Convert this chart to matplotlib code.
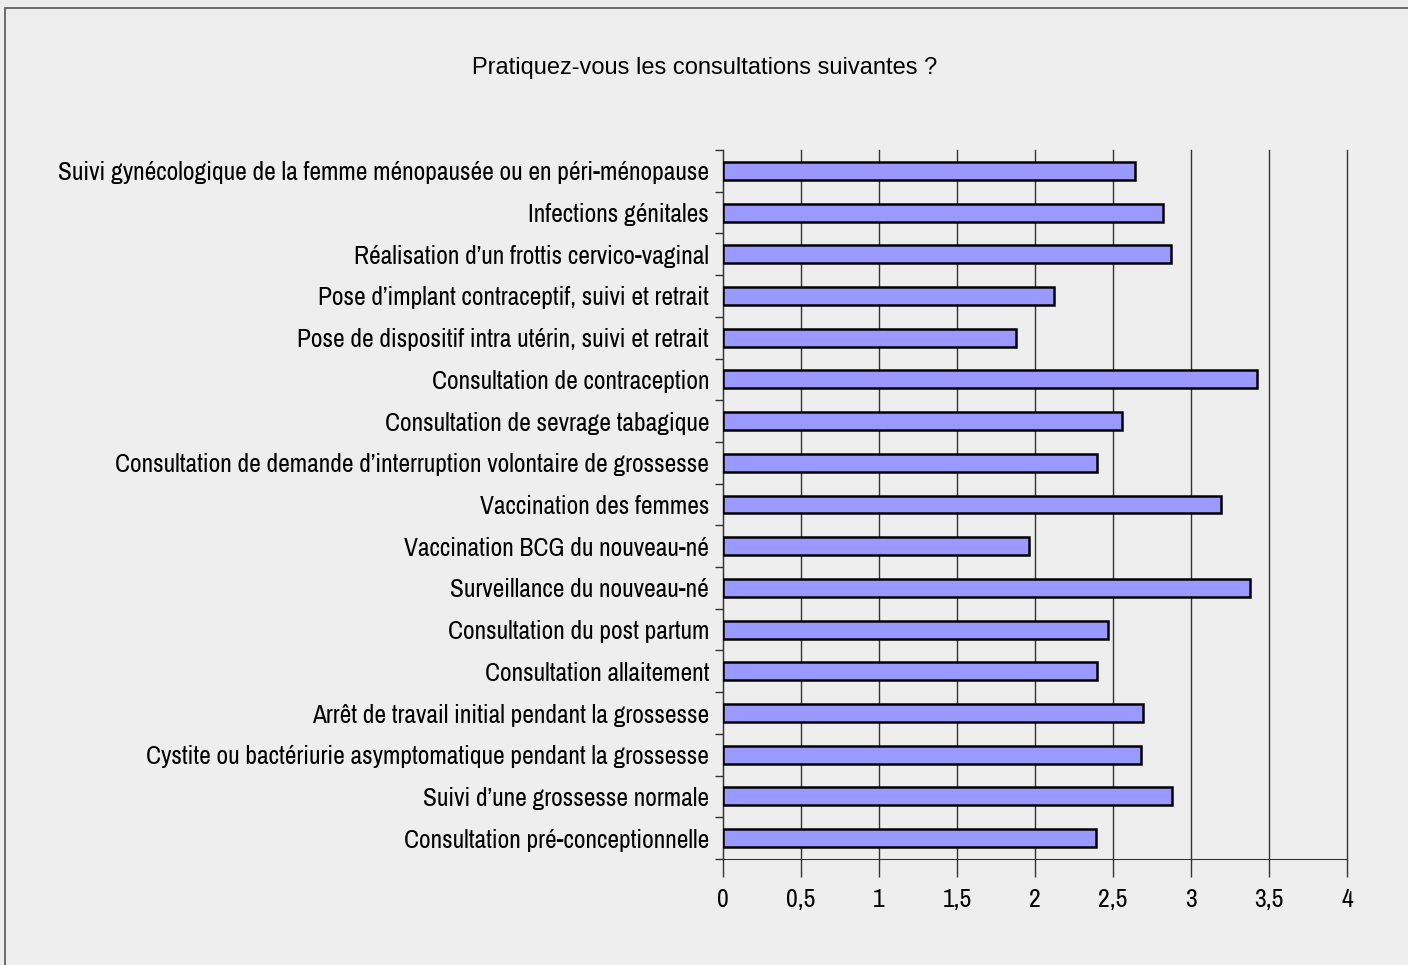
import matplotlib
matplotlib.use("Agg")
import matplotlib.pyplot as plt
import numpy as np
from matplotlib.patches import Rectangle

plt.rcParams["font.family"] = ["Archivo Narrow", "DejaVu Sans"]

TITLE = "Pratiquez-vous les consultations suivantes ?"

# top to bottom as drawn
categories = [
    "Suivi gynécologique de la femme ménopausée ou en péri-ménopause",
    "Infections génitales",
    "Réalisation d\u2019un frottis cervico-vaginal",
    "Pose d\u2019implant contraceptif, suivi et retrait",
    "Pose de dispositif intra utérin, suivi et retrait",
    "Consultation de contraception",
    "Consultation de sevrage tabagique",
    "Consultation de demande d\u2019interruption volontaire de grossesse",
    "Vaccination des femmes",
    "Vaccination BCG du nouveau-né",
    "Surveillance du nouveau-né",
    "Consultation du post partum",
    "Consultation allaitement",
    "Arrêt de travail initial pendant la grossesse",
    "Cystite ou bactériurie asymptomatique pendant la grossesse",
    "Suivi d\u2019une grossesse normale",
    "Consultation pré-conceptionnelle",
]
values = [2.64, 2.82, 2.87, 2.12, 1.88, 3.42, 2.56, 2.40, 3.19, 1.96,
          3.38, 2.47, 2.40, 2.69, 2.68, 2.88, 2.39]

x_ticks = [0, 0.5, 1, 1.5, 2, 2.5, 3, 3.5, 4]
x_labels = ["0", "0,5", "1", "1,5", "2", "2,5", "3", "3,5", "4"]

BG = "#eeeeee"
BAR = "#9999ff"
GRID = "#333333"

fig = plt.figure(figsize=(14.08, 9.65), dpi=100, facecolor=BG)
fig.patches.append(Rectangle((5 / 1408, -0.01), 1.1, 1 - 8 / 965 + 0.01,
                             transform=fig.transFigure, fill=False,
                             edgecolor="#555555", linewidth=1.2))
ax = fig.add_axes([723 / 1408, 1 - 859 / 965, 624 / 1408, 709 / 965])
ax.set_facecolor(BG)

n = len(categories)
y = np.arange(n)[::-1]
ax.barh(y, values, height=0.43, color=BAR, edgecolor="black", linewidth=1.8, zorder=3)

ax.set_xlim(0, 4)
ax.set_ylim(-0.5, n - 0.5)
ax.set_xticks(x_ticks)
ax.set_xticklabels(x_labels, fontsize=18.5)
ax.set_yticks(y)
ax.set_yticklabels(categories, fontsize=18.3)
ax.set_yticks(np.arange(n + 1) - 0.5, minor=True)

ax.tick_params(axis="y", which="major", length=0, pad=10)
ax.tick_params(axis="y", which="minor", length=6, width=1, color=GRID)
ax.tick_params(axis="x", which="major", length=13, width=1, color=GRID, pad=8)

ax.xaxis.grid(True, color=GRID, linewidth=1, zorder=0)
for gl in ax.get_xgridlines():
    gl.set_clip_on(False)
ax.set_axisbelow(True)
for side in ["top", "right"]:
    ax.spines[side].set_visible(False)
ax.spines["left"].set_color(GRID)
ax.spines["bottom"].set_color(GRID)

fig.text(705 / 1408, 1 - 68 / 965, TITLE, ha="center", va="center",
         fontsize=17, family=["Liberation Sans", "DejaVu Sans"])

fig.savefig("out.png", dpi=100, facecolor=BG)
